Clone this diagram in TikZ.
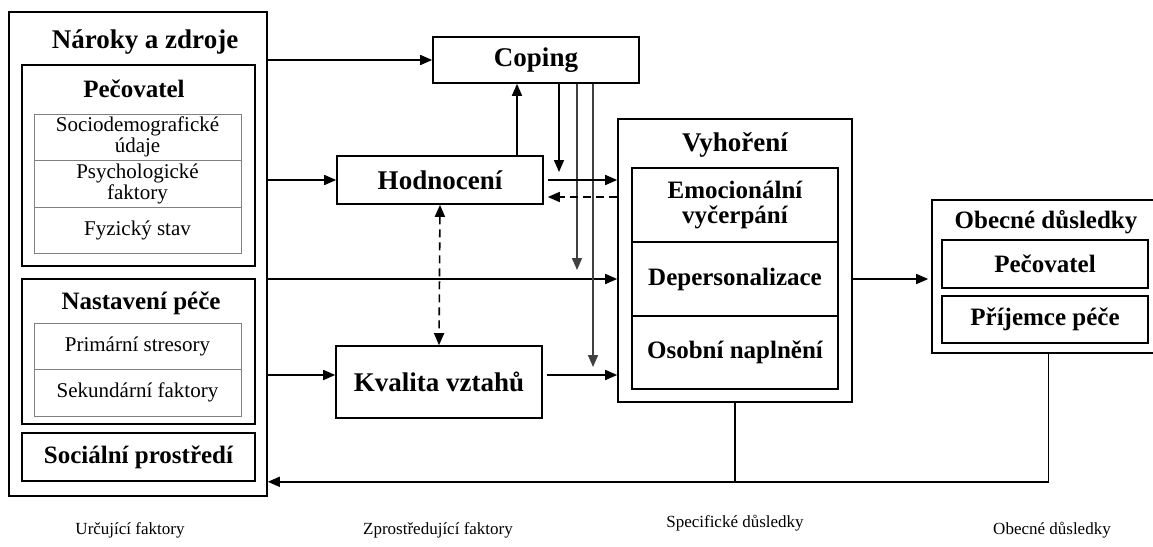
\documentclass[tikz,border=0pt]{standalone}
\usepackage{fontspec}
\setmainfont{Liberation Serif}
\usetikzlibrary{arrows.meta}

\begin{document}
\begin{tikzpicture}[x=1pt,y=-1pt,
    box/.style={draw,line width=1.6pt,inner sep=0pt},
    cell/.style={draw=gray,line width=0.9pt,minimum width=207pt,inner sep=0pt,align=center,font=\fontsize{21}{21}\selectfont},
    part/.style={draw,line width=1.6pt,minimum width=206pt,minimum height=74pt,inner sep=0pt,align=center,font=\fontsize{25}{25}\selectfont\bfseries},
    head/.style={font=\fontsize{27}{29}\selectfont\bfseries},
    sub/.style={font=\fontsize{25}{27}\selectfont\bfseries},
    lbl/.style={font=\fontsize{17}{19}\selectfont},
    arr/.style={line width=1.6pt,-{Triangle[length=12pt,width=10pt]}},
    dsh/.style={arr,dash pattern=on 8pt off 5pt},
    dbl/.style={line width=1.6pt,dash pattern=on 8pt off 5pt,{Triangle[length=12pt,width=10pt]}-{Triangle[length=12pt,width=10pt]}}]
    \useasboundingbox (0,0) rectangle (1153,546);

    % Determining factors
    \node[box,minimum width=258pt,minimum height=484pt] (zdroje) at (138,254) {};
    \node[head] (zdrojet) at (145,42) {Nároky a zdroje};
    \node[box,minimum width=233pt,minimum height=201pt] (pec) at (138.5,165.5) {};
    \node[sub] (pect) at (134,89) {Pečovatel};
    \node[cell,minimum height=46pt] (socio) at (137.5,137) {Sociodemografické\\údaje};
    \node[cell,minimum height=47pt] (psych) at (137.5,183.5) {Psychologické\\faktory};
    \node[cell,minimum height=46pt] (fyz) at (137.5,230) {Fyzický stav};
    \node[box,minimum width=233pt,minimum height=145pt] (nast) at (138.5,351.5) {};
    \node[sub] (nastt) at (141,303) {Nastavení péče};
    \node[cell,minimum height=46pt] (prim) at (137.5,346) {Primární stresory};
    \node[cell,minimum height=47pt] (sek) at (137.5,392.5) {Sekundární faktory};
    \node[box,sub,minimum width=233pt,minimum height=48pt] (soc) at (138.5,457) {Sociální prostředí};

    % Mediating factors
    \node[box,head,minimum width=206pt,minimum height=46pt] (coping) at (536,60) {Coping};
    \node[box,head,minimum width=206pt,minimum height=48pt] (hodn) at (440,180) {Hodnocení};
    \node[box,head,minimum width=206pt,minimum height=72pt] (kval) at (439,382) {Kvalita vztahů};

    % Burnout
    \node[box,minimum width=234pt,minimum height=283pt] (vyh) at (735,260.5) {};
    \node[head] (vyht) at (735,145) {Vyhoření};
    \node[part] (emo) at (735,205) {Emocionální\\vyčerpání};
    \node[part] (dep) at (735,279) {Depersonalizace};
    \node[part,minimum height=73pt] (oso) at (735,352.5) {Osobní naplnění};

    % General outcomes
    \node[box,minimum width=233pt,minimum height=153pt] (obec) at (1048.5,276.5) {};
    \node[sub] (obect) at (1046,222) {Obecné důsledky};
    \node[box,sub,minimum width=206pt,minimum height=48pt] (obpec) at (1045,264) {Pečovatel};
    \node[box,sub,minimum width=206pt,minimum height=47pt] (obprij) at (1045,319.5) {Příjemce péče};

    % helper points
    \coordinate (hu) at ([xshift=77pt]hodn.north);
    \coordinate (hb) at ([yshift=-17pt]hodn.east);
    \coordinate (ke) at ([yshift=7pt]kval.east);
    \coordinate (kw) at ([yshift=7pt]kval.west);
    \coordinate (d1) at (559,172);
    \coordinate (d2) at (577,270);
    \coordinate (d3) at (593,367);

    % arrows
    \draw[arr] (zdroje.east |- coping.west) -- (coping.west);
    \draw[arr] (zdroje.east |- hodn.west) -- (hodn.west);
    \draw[arr] (zdroje.east |- dep) -- (vyh.west |- dep);
    \draw[arr] (zdroje.east |- kw) -- (kw);
    \draw[arr] (hu) -- (hu |- coping.south);
    \draw[dbl] (hodn.south) -- (kval.north);
    \draw[arr] (coping.south -| d1) -- (d1);
    \draw[arr,draw=black!75] (coping.south -| d2) -- (d2);
    \draw[arr,draw=black!75] (coping.south -| d3) -- (d3);
    \draw[arr] ([xshift=4pt]hodn.east) -- (vyh.west |- hodn.east);
    \draw[dsh] (vyh.west |- hb) -- ([xshift=4pt]hb);
    \draw[arr] ([xshift=4pt]ke) -- (vyh.west |- ke);
    \draw[arr,shorten >=3pt] (vyh.east |- dep) -- (obec.west |- dep);
    \draw[line width=1.6pt] (vyh.south) -- (vyh.south |- soc.south);
    \draw[arr] (obec.south) |- (zdroje.east |- soc.south);

    % column labels
    \node[lbl] (l1) at (130,530) {Určující faktory};
    \node[lbl] (l2) at (438,530) {Zprostředující faktory};
    \node[lbl] (l3) at (735,523) {Specifické důsledky};
    \node[lbl] (l4) at (1052,530) {Obecné důsledky};
\end{tikzpicture}
\end{document}
